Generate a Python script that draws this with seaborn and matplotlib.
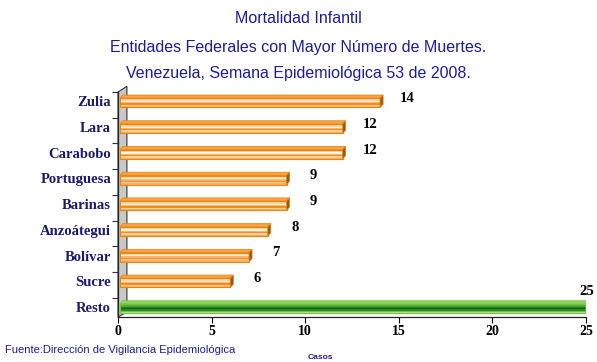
import numpy as np
import pandas as pd
import matplotlib
matplotlib.use("Agg")
import matplotlib.pyplot as plt
import seaborn as sns
from matplotlib.patches import Polygon, Rectangle

entidades = ["Zulia", "Lara", "Carabobo", "Portuguesa", "Barinas",
             "Anzoátegui", "Bolívar", "Sucre", "Resto"]
casos = [14, 12, 12, 9, 9, 8, 7, 6, 25]
x_ticks = [0, 5, 10, 15, 20, 25]

titulo = ["Mortalidad Infantil",
          "Entidades Federales con Mayor Número de Muertes.",
          "Venezuela, Semana Epidemiológica 53 de 2008."]
fuente = "Fuente:Dirección de Vigilancia Epidemiológica"

df = pd.DataFrame({"entidad": entidades, "casos": casos})
df["grupo"] = ["estado"] * (len(entidades) - 1) + ["resto"]

sns.set_theme(style="white")
plt.rcParams["font.family"] = ["Liberation Sans", "DejaVu Sans"]

fig = plt.figure(figsize=(5.97, 3.62), dpi=100)
ax = fig.add_axes([0.1977, 0.1243, 0.7839, 0.6216])

palette = {"estado": "#f7951e", "resto": "#3a9a3a"}
sns.barplot(data=df, x="casos", y="entidad", hue="grupo", palette=palette,
            dodge=False, legend=False, width=0.48, ax=ax, saturation=1)

# striped shading that fakes a cylindrical look
stripes = {
    "estado": ["#f08a18", "#ffd2a4", "#fff3e6", "#ffb46a", "#f28c1c", "#ffcf9c", "#fbb060"],
    "resto": ["#a4dc78", "#4caa3c", "#237a26", "#15601a", "#2c8a2c", "#6cc050", "#acE488"],
}
top_face = {"estado": "#f9a448", "resto": "#8ed464"}
edge = {"estado": "#e8850f", "resto": "#7cc436"}
cap = {"estado": "#8a5a20", "resto": "#2a5a1a"}

x_start = 0.1    # bars sit just in front of the back wall
dx, dy = 0.16, 0.12  # depth of the 3D faces, data units
for patch in list(ax.patches):
    w = patch.get_width()
    if w <= 0:
        continue
    y0, h = patch.get_y(), patch.get_height()
    idx = int(round(y0 + h / 2))
    g = df["grupo"].iloc[idx]
    front_top = y0 + dy
    fh = h - dy
    cols = stripes[g]
    n = len(cols)
    for k, c in enumerate(cols):
        ax.add_patch(Rectangle((x_start, front_top + k * fh / n), w - x_start, fh / n,
                               facecolor=c, edgecolor="none", zorder=3))
    ax.add_patch(Rectangle((x_start, front_top), w - x_start, fh, facecolor="none",
                           edgecolor=edge[g], lw=0.8, zorder=4))
    # top face
    ax.add_patch(Polygon([(x_start, front_top), (w, front_top), (w + dx, y0),
                          (x_start + dx, y0)], closed=True,
                         facecolor=top_face[g], edgecolor=edge[g], lw=0.6, zorder=4))
    # end cap
    ax.add_patch(Polygon([(w, front_top + fh), (w + dx, y0 + fh), (w + dx, y0),
                          (w, front_top)], closed=True,
                         facecolor=cap[g], edgecolor=edge[g], lw=0.6, zorder=4))
    patch.set_visible(False)

    # value labels
    if g == "resto":
        ax.text(w + 0.05, y0 - 0.1, f"{w:g}", ha="center", va="bottom",
                fontsize=10.5, fontweight="bold", family="Liberation Serif",
                color="black", zorder=6, clip_on=False)
    else:
        ax.text(w + 1.45, y0 + h / 2 - 0.1, f"{w:g}", ha="center", va="center",
                fontsize=10.5, fontweight="bold", family="Liberation Serif",
                color="black", zorder=6)

ax.set_xlim(0, 25)
ax.set_ylim(8.39, -0.36)
ax.set_xticks(x_ticks)
ax.set_xticklabels([str(t) for t in x_ticks], fontsize=10, fontweight="bold",
                   family="Liberation Serif", color="black")
ax.set_yticks(range(len(entidades)))
ax.set_yticklabels(entidades, fontsize=10.5, fontweight="bold",
                   family="Liberation Serif", color="#1a1a70")
ax.set_yticks(np.arange(-0.36, 8.0, 1.0), minor=True)
ax.tick_params(axis="y", which="major", length=0, pad=5)
ax.tick_params(axis="y", which="minor", length=4, width=0.8, color="#333333",
               direction="out", left=True)
ax.tick_params(axis="x", length=4, width=0.8, color="black", direction="out",
               bottom=True, pad=2)
ax.set_xlabel("")
ax.set_ylabel("")

for side in ["top", "right"]:
    ax.spines[side].set_visible(False)
for side in ["left", "bottom"]:
    ax.spines[side].set_color("#222222")
    ax.spines[side].set_linewidth(0.9)

# grey back wall of the 3D frame
wall = Polygon([(0, 0), (0.019, 0.022), (0.019, 1.025), (0, 1.0)], closed=True,
               transform=ax.transAxes, facecolor="#c8c8c8", edgecolor="#333333",
               lw=0.8, clip_on=False, zorder=1)
ax.add_patch(wall)

blue = "#1c1c9c"
for i, ypos in enumerate([0.948, 0.870, 0.798]):
    fig.text(0.5, ypos, titulo[i], ha="center", va="center",
             fontsize=11.5, color=blue)
fig.text(0.008, 0.033, fuente, ha="left", va="center", fontsize=8, color=blue)
fig.text(0.537, 0.004, "Casos", ha="center", va="bottom", fontsize=6,
         fontweight="bold", color=blue)

fig.savefig("out.png", dpi=100)
